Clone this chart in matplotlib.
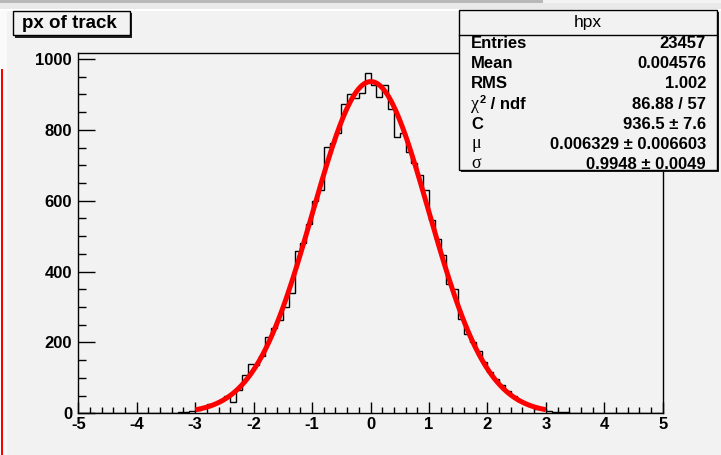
import matplotlib
matplotlib.use('Agg')
import matplotlib.pyplot as plt
from matplotlib.patches import Rectangle
from matplotlib.ticker import MultipleLocator, FuncFormatter
import numpy as np

# histogram hpx: 100 bins from -5 to 5
bin_lo, bin_hi, n_bins = -5.0, 5.0, 100
counts = [
    0, 0, 0, 0, 0, 0, 0, 0, 0, 0,
    0, 1, 0, 1, 1, 1, 2, 3, 4, 7,
    10, 14, 27, 30, 38, 50, 32, 65, 107, 140,
    135, 163, 214, 240, 262, 299, 340, 458, 481, 533,
    598, 630, 753, 762, 790, 872, 901, 890, 903, 961,
    926, 893, 926, 860, 780, 790, 739, 706, 673, 631,
    545, 491, 448, 365, 350, 266, 225, 200, 177, 144,
    116, 98, 81, 63, 50, 36, 28, 22, 13, 11,
    7, 5, 4, 3, 2, 1, 2, 1, 0, 1,
    0, 0, 0, 0, 0, 0, 0, 0, 0, 0,
]

# gaussian fit result (from the stats box)
fit_C = 936.5
fit_mu = 0.006329
fit_sigma = 0.9948
fit_lo, fit_hi = -3.0, 3.0

title = 'px of track'
stats_name = 'hpx'
stat_labels = ['Entries', 'Mean', 'RMS', 'χ² / ndf', 'C', 'μ', 'σ']
stat_values = ['23457', '0.004576', '1.002', '86.88 / 57',
               '936.5 ± 7.6', '0.006329 ± 0.006603', '0.9948 ± 0.0049']

W, H = 721, 455
bg = '#f2f2f2'


def fx(x):
    return x / W


def fy(y):
    return 1 - y / H


def frect(x0, y0, x1, y1, **kw):
    # rectangle given in pixel coords (top-left origin)
    return Rectangle((fx(x0), fy(y1)), fx(x1) - fx(x0), fy(y0) - fy(y1),
                     transform=fig.transFigure, **kw)


fig = plt.figure(figsize=(W / 100, H / 100), dpi=100, facecolor=bg)

# window decorations around the canvas
fig.add_artist(frect(0, 0, 543, 2.7, facecolor='#b8b8b8', edgecolor='none'))
fig.add_artist(frect(0, 2.7, W, 9, facecolor='#e9e9e9', edgecolor='none'))
fig.add_artist(frect(0, 9, W, 10.5, facecolor='white', edgecolor='none'))
fig.add_artist(frect(0, 10, 7, H, facecolor='#fafafa', edgecolor='none'))
fig.add_artist(frect(1, 69, 3, H, facecolor='red', edgecolor='none'))

ax = fig.add_axes([fx(78.3), fy(413.3), fx(662.7) - fx(78.3), fy(52.7) - fy(413.3)])
ax.set_facecolor(bg)

edges = np.linspace(bin_lo, bin_hi, n_bins + 1)
ax.stairs(counts, edges, color='black', linewidth=1.0, zorder=2)

xf = np.linspace(fit_lo, fit_hi, 200)
yf = fit_C * np.exp(-0.5 * ((xf - fit_mu) / fit_sigma) ** 2)
ax.plot(xf, yf, color='red', linewidth=3.6, zorder=3, solid_capstyle='butt')

ax.set_xlim(bin_lo, bin_hi)
ax.set_ylim(0, 1018)

for s in ax.spines.values():
    s.set_linewidth(1.0)

ax.xaxis.set_major_locator(MultipleLocator(1))
ax.xaxis.set_minor_locator(MultipleLocator(0.2))
ax.yaxis.set_major_locator(MultipleLocator(200))
ax.yaxis.set_minor_locator(MultipleLocator(50))
ax.xaxis.set_major_formatter(FuncFormatter(lambda v, p: '%d' % round(v)))
ax.yaxis.set_major_formatter(FuncFormatter(lambda v, p: '%d' % round(v)))

ax.tick_params(axis='x', which='major', direction='in', length=8, width=1, pad=2.5)
ax.tick_params(axis='x', which='minor', direction='in', length=4, width=1)
ax.tick_params(axis='y', which='major', direction='in', length=12, width=1, pad=4.5)
ax.tick_params(axis='y', which='minor', direction='in', length=6, width=1)
ax.tick_params(top=False, right=False, which='both')
for lab in ax.get_xticklabels() + ax.get_yticklabels():
    lab.set_fontfamily('Liberation Sans')
    lab.set_fontweight('bold')
    lab.set_fontsize(12)

# title box with shadow
fig.add_artist(frect(15, 13.5, 132, 37.5, facecolor='#202020', edgecolor='none', zorder=5))
fig.add_artist(frect(12.7, 11.3, 130, 35.3, facecolor=bg, edgecolor='black', linewidth=1.0, zorder=6))
fig.text(fx(22.5), fy(23.5), title, ha='left', va='center', fontsize=13.5,
         fontweight='bold', family='Liberation Sans', zorder=7)

# stats box with shadow
sx0, sy0, sx1, sy1 = 459.3, 10, 717, 170
fig.add_artist(frect(sx0 + 2, sy0 + 2, sx1 + 2, sy1 + 2, facecolor='#202020', edgecolor='none', zorder=5))
fig.add_artist(frect(sx0, sy0, sx1, sy1, facecolor=bg, edgecolor='black', linewidth=1.0, zorder=6))
fig.add_artist(plt.Line2D([fx(sx0), fx(sx1)], [fy(35), fy(35)], color='black',
                          linewidth=1.0, transform=fig.transFigure, zorder=7))
fig.text(fx((sx0 + sx1) / 2), fy(27), stats_name, ha='center', va='baseline',
         fontsize=12.5, family='Liberation Sans', zorder=7)

fs = 12
row_base = [48.3 + 20.1 * i for i in range(len(stat_labels))]
for lab, val, yb in zip(stat_labels, stat_values, row_base):
    if lab in ('μ', 'σ'):
        fig.text(fx(471), fy(yb - 1), lab, ha='left', va='baseline', fontsize=fs + 1,
                 family='Liberation Serif', zorder=7)
    elif lab.startswith('χ'):
        fig.text(fx(471), fy(yb), 'χ', ha='left', va='baseline', fontsize=fs + 1,
                 family='Liberation Serif', zorder=7)
        fig.text(fx(480), fy(yb - 6), '2', ha='left', va='baseline', fontsize=fs - 4,
                 fontweight='bold', family='Liberation Sans', zorder=7)
        fig.text(fx(486), fy(yb), lab[2:], ha='left', va='baseline', fontsize=fs,
                 fontweight='bold', family='Liberation Sans', zorder=7)
    else:
        fig.text(fx(471), fy(yb), lab, ha='left', va='baseline', fontsize=fs,
                 fontweight='bold', family='Liberation Sans', zorder=7)
    fig.text(fx(706), fy(yb), val, ha='right', va='baseline', fontsize=fs,
             fontweight='bold', family='Liberation Sans', zorder=7)

fig.savefig('out.png', dpi=100, facecolor=bg)
